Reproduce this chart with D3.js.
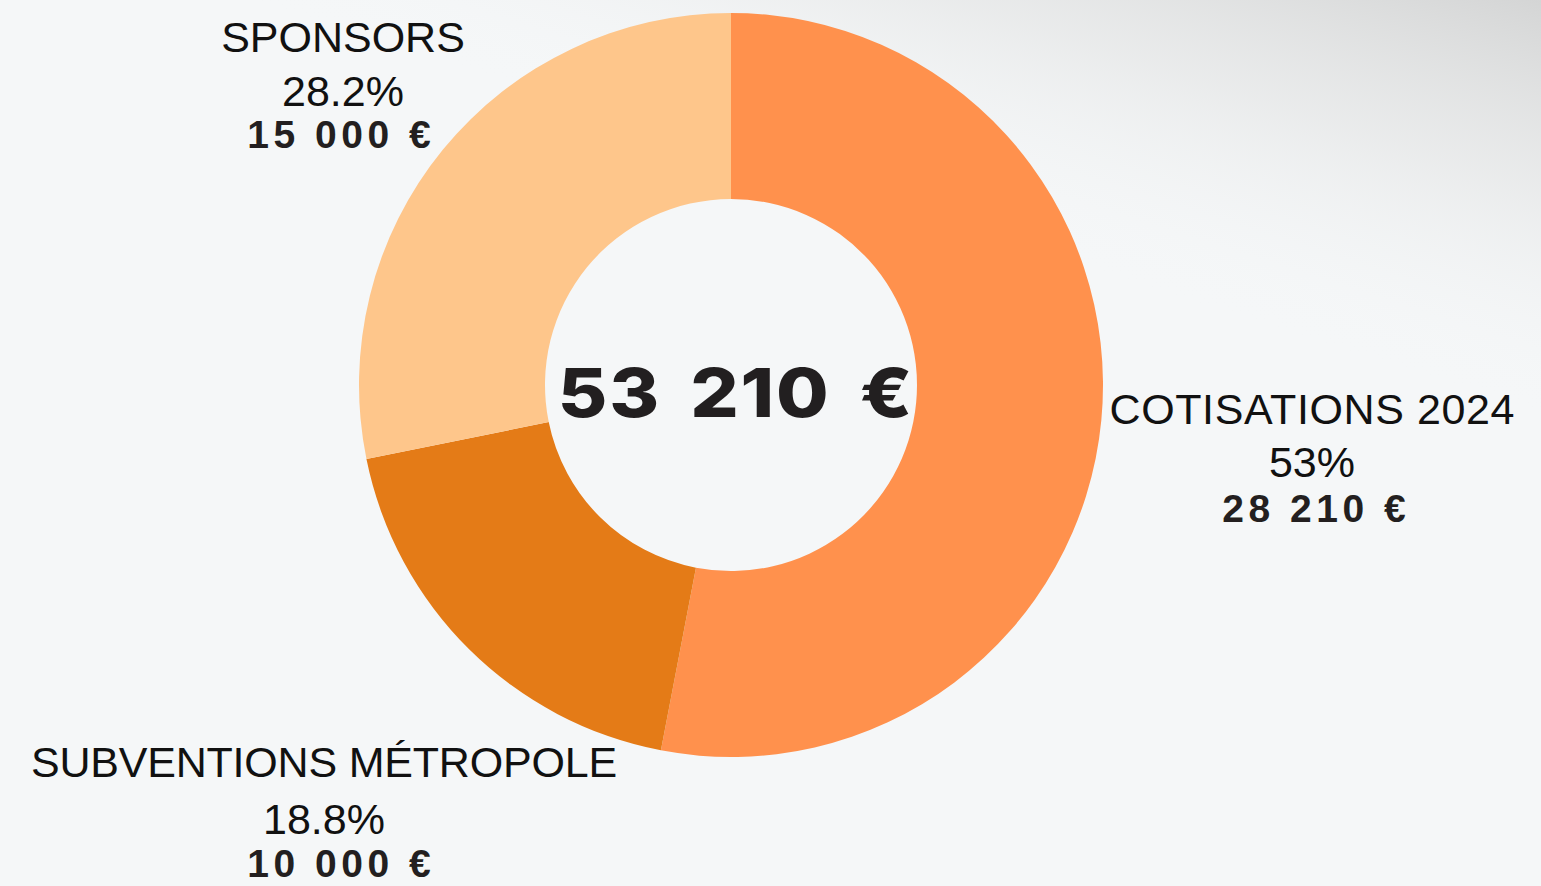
<!DOCTYPE html>
<html>
<head>
<meta charset="utf-8">
<script src="https://cdn.jsdelivr.net/npm/d3@7"></script>
<style>
  html, body { margin: 0; padding: 0; background: #f5f7f8; overflow: hidden; }
  svg { display: block; }
</style>
</head>
<body>
<svg id="chart" width="1541" height="886"></svg>
<script>
// ---- data ----
const categories = ["COTISATIONS 2024", "SUBVENTIONS MÉTROPOLE", "SPONSORS"];
const values = [28210, 10000, 15000];
const percentLabels = ["53%", "18.8%", "28.2%"];
const amountLabels = ["28 210 €", "10 000 €", "15 000 €"];
const totalLabel = "53 210 €";
const colors = ["#ff914d", "#e47b17", "#fec68b"];

const W = 1541, H = 886;
const cx = 731, cy = 385, outerR = 372, innerR = 186;

const svg = d3.select("#chart");
const defs = svg.append("defs");

// background
svg.append("rect").attr("width", W).attr("height", H).attr("fill", "#f5f7f8");
const grad = defs.append("linearGradient").attr("id", "corner")
  .attr("x1", "1").attr("y1", "0").attr("x2", "0.80").attr("y2", "0.36");
grad.append("stop").attr("offset", "0").attr("stop-color", "#d4d5d5").attr("stop-opacity", 1);
grad.append("stop").attr("offset", "0.45").attr("stop-color", "#e2e3e3").attr("stop-opacity", 0.6);
grad.append("stop").attr("offset", "1").attr("stop-color", "#f5f7f8").attr("stop-opacity", 0);
svg.append("rect").attr("width", W).attr("height", H).attr("fill", "url(#corner)");

// donut
const pie = d3.pie().sort(null).value(d => d)(values);
const arc = d3.arc().innerRadius(innerR).outerRadius(outerR);
const g = svg.append("g").attr("transform", `translate(${cx},${cy})`);
g.selectAll("path").data(pie).join("path")
  .attr("d", arc)
  .attr("fill", (d, i) => colors[i]);

// center total
svg.append("g").attr("transform", `translate(${cx + 5},${cy + 32}) scale(1.12,1)`)
  .append("text")
  .attr("x", 0).attr("y", 0)
  .attr("text-anchor", "middle")
  .style("font-family", "Inter, 'Open Sans', sans-serif")
  .style("font-weight", 800)
  .style("font-size", "68px")
  .style("letter-spacing", "1.5px")
  .style("word-spacing", "10px")
  .attr("fill", "#221f20")
  .text(totalLabel);

// labels
const labelPos = [
  {x: 1312, y: 424, dy1: 53, dy2: 98, ax: 1314, ls1: 0.6},
  {x: 324, y: 777, dy1: 57, dy2: 100, ax: 339, ls1: -0.2},
  {x: 343, y: 52, dy1: 54, dy2: 96, ax: 339, ls1: 0}
];
const ls = 4.5;
const lab = svg.append("g");
categories.forEach((c, i) => {
  const p = labelPos[i];
  const t = lab.append("text").attr("text-anchor", "middle")
    .style("font-family", "'Liberation Sans', Arial, sans-serif")
    .attr("fill", "#111");
  t.append("tspan").attr("x", p.x + p.ls1 / 2).attr("y", p.y)
    .style("font-size", "43px").style("letter-spacing", p.ls1 + "px").text(c);
  t.append("tspan").attr("x", p.x).attr("y", p.y + p.dy1)
    .style("font-size", "43px").style("letter-spacing", "0px").text(percentLabels[i]);
  t.append("tspan").attr("x", p.ax + ls / 2).attr("y", p.y + p.dy2)
    .style("font-size", "39px").style("font-weight", "bold")
    .style("letter-spacing", ls + "px").attr("fill", "#231f20")
    .text(amountLabels[i]);
});
</script>
</body>
</html>
